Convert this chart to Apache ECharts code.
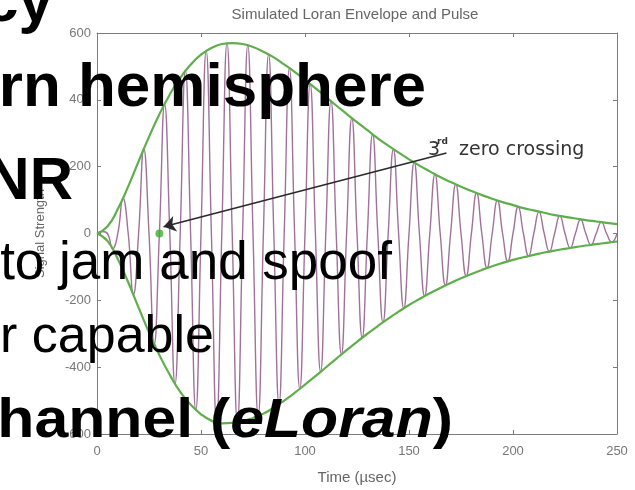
<!DOCTYPE html>
<html>
<head>
<meta charset="utf-8">
<script src="https://cdn.jsdelivr.net/npm/echarts@6/dist/echarts.min.js"></script>
<style>
  html, body { margin: 0; padding: 0; background: #fff; }
  #chart { width: 635px; height: 490px; }
</style>
</head>
<body>
<div id="chart"></div>
<script>
// envelope, sampled every 5 usec
const envTimes = [0,5,10,15,20,25,30,35,40,45,50,55,60,65,70,75,80,85,90,95,100,
  105,110,115,120,125,130,135,140,145,150,155,160,165,170,175,180,185,190,195,200,
  205,210,215,220,225,230,235,240,245,250];
const envUpper = [0,21,73,141,216,289,357,416,466,505,535,555,567,570,567,558,544,527,506,484,460,
  435,409,383,358,333,309,285,263,242,222,203,186,169,154,140,127,115,104,94,85,
  76,69,62,55,50,45,40,36,32,28];
const envLower = [0,-22,-76,-146,-222,-296,-364,-423,-474,-512,-541,-560,-568,-567,-562,-552,-539,-521,-500,-477,-452,
  -427,-401,-375,-349,-324,-300,-277,-255,-234,-214,-196,-179,-163,-148,-134,-121,-109,-98,-88,-79,
  -71,-64,-57,-51,-46,-41,-36,-32,-28,-24];

// 100 kHz carrier, peaks and zero crossings every 2.5 usec
const pulseTimes = [0,2.5,5,7.5,10,12.5,15,17.5,20,22.5,25,27.5,30,32.5,35,37.5,40,42.5,45,47.5,50,
  52.5,55,57.5,60,62.5,65,67.5,70,72.5,75,77.5,80,82.5,85,87.5,90,92.5,95,97.5,100,
  102.5,105,107.5,110,112.5,115,117.5,120,122.5,125,127.5,130,132.5,135,137.5,140,142.5,145,147.5,150,
  152.5,155,157.5,160,162.5,165,167.5,170,172.5,175,177.5,180,182.5,185,187.5,190,192.5,195,197.5,200,
  202.5,205,207.5,210,212.5,215,217.5,220,222.5,225,227.5,230,232.5,235,237.5,240,242.5,245,247.5,250];
const pulseValues = [0,6,0,-46,0,106,0,-183,0,253,0,-331,0,387,0,-450,0,487,0,-528,0,
  546,0,-565,0,569,0,-565,0,563,0,-546,0,536,0,-511,0,495,0,-465,0,
  447,0,-414,0,396,0,-362,0,345,0,-312,0,297,0,-266,0,252,0,-224,0,
  213,0,-187,0,177,0,-155,0,147,0,-127,0,121,0,-103,0,99,0,-83,0,
  80,0,-67,0,65,0,-54,0,53,0,-43,0,42,0,-34,0,34,0,-26,0];

const zeroCrossing = [30, 0];
const arrowFrom = [168, 241];
const arrowTo = [32, 20];

const xTicks = [0, 250, 50];     // min, max, step
const yTicks = [-600, 600, 200];

const zip = (a, b) => a.map((v, i) => [v, b[i]]);

const chart = echarts.init(document.getElementById('chart'));

const axisGray = '#7c7c7c';
const labelStyle = { color: '#777', fontSize: 13, fontFamily: 'Liberation Sans' };
const slideFont = 'Liberation Sans';

function slideText(text, right, baseline, size, opts) {
  opts = opts || {};
  return {
    type: 'text', z: 100, x: right, y: baseline - size * 0.33,
    scaleX: opts.scaleX || 1,
    style: {
      text: text, fill: '#000', fontFamily: slideFont, fontSize: size,
      fontWeight: opts.weight || 'bold', align: 'right', verticalAlign: 'middle',
      rich: opts.rich
    }
  };
}

chart.setOption({
  animation: false,
  backgroundColor: '#fff',
  grid: { left: 97, right: 18, top: 33, bottom: 48 },
  xAxis: [
    {
      type: 'value', min: xTicks[0], max: xTicks[1], interval: xTicks[2],
      name: 'Time (µsec)', nameLocation: 'middle', nameGap: 36,
      nameTextStyle: { color: '#666', fontSize: 15, fontFamily: 'Liberation Sans' },
      axisLine: { show: true, onZero: false, lineStyle: { color: axisGray } },
      axisTick: { inside: true, length: 4, lineStyle: { color: axisGray } },
      axisLabel: Object.assign({ margin: 11 }, labelStyle),
      splitLine: { show: false }
    },
    {
      type: 'value', position: 'top', min: xTicks[0], max: xTicks[1], interval: xTicks[2],
      axisLine: { show: true, onZero: false, lineStyle: { color: axisGray } },
      axisTick: { inside: true, length: 4, lineStyle: { color: axisGray } },
      axisLabel: { show: false }, splitLine: { show: false }
    }
  ],
  yAxis: [
    {
      type: 'value', min: yTicks[0], max: yTicks[1], interval: yTicks[2],
      name: 'Signal Strength', nameLocation: 'middle', nameGap: 50,
      nameTextStyle: { color: '#666', fontSize: 13, fontFamily: 'Liberation Sans' },
      axisLine: { show: true, onZero: false, lineStyle: { color: axisGray } },
      axisTick: { inside: true, length: 4, lineStyle: { color: axisGray } },
      axisLabel: Object.assign({ margin: 6 }, labelStyle),
      splitLine: { show: false }
    },
    {
      type: 'value', position: 'right', min: yTicks[0], max: yTicks[1], interval: yTicks[2],
      axisLine: { show: true, onZero: false, lineStyle: { color: axisGray } },
      axisTick: { inside: true, length: 4, lineStyle: { color: axisGray } },
      axisLabel: { show: false }, splitLine: { show: false }
    }
  ],
  series: [
    {
      name: 'Pulse', type: 'line', data: zip(pulseTimes, pulseValues),
      showSymbol: false, smooth: 0.5,
      lineStyle: { color: '#a0729a', width: 1.4 }
    },
    {
      name: 'Envelope+', type: 'line', data: zip(envTimes, envUpper),
      showSymbol: false, smooth: true,
      lineStyle: { color: '#5fae4c', width: 2.2 }
    },
    {
      name: 'Envelope-', type: 'line', data: zip(envTimes, envLower),
      showSymbol: false, smooth: true,
      lineStyle: { color: '#5fae4c', width: 2.2 }
    },
    {
      name: 'Zero crossing', type: 'scatter', data: [zeroCrossing],
      symbolSize: 8, itemStyle: { color: '#3fae35' }, z: 5,
      markLine: {
        silent: true, symbol: ['none', 'arrow'], symbolSize: 12,
        label: { show: false },
        lineStyle: { color: '#2a2a2a', width: 1.6, type: 'solid' },
        data: [[{ coord: arrowFrom }, { coord: arrowTo }]]
      }
    }
  ],
  graphic: [
    { type: 'text', x: 355, y: 15, style: { text: 'Simulated Loran Envelope and Pulse', fill: '#666',
      fontSize: 15, fontFamily: 'Liberation Sans', align: 'center', verticalAlign: 'middle' } },
    { type: 'text', x: 428, y: 150, style: { text: '3', fill: '#333', fontSize: 19,
      fontFamily: 'DejaVu Sans', align: 'left', verticalAlign: 'middle' } },
    { type: 'text', x: 437, y: 142, style: { text: 'rd', fill: '#333', fontSize: 9,
      fontFamily: 'DejaVu Sans', fontWeight: 'bold', align: 'left', verticalAlign: 'middle' } },
    { type: 'text', x: 459, y: 150, style: { text: 'zero crossing', fill: '#333', fontSize: 19,
      fontFamily: 'DejaVu Sans', align: 'left', verticalAlign: 'middle' } },

    slideText('cy', 53, 24, 62),
    slideText('rn hemisphere', 426, 109, 62),
    slideText('NR', 73, 202, 60),
    slideText('to jam and spoof', 392, 282, 53, { weight: 'normal' }),
    slideText('r capable', 214, 355, 52, { weight: 'normal' }),
    slideText('{b|hannel (}{i|eLoran}{b|)}', 453, 440, 56, {
      scaleX: 1.085,
      rich: {
        b: { fontFamily: slideFont, fontSize: 56, fontWeight: 'bold', fill: '#000' },
        i: { fontFamily: slideFont, fontSize: 56, fontWeight: 'bold', fontStyle: 'italic', fill: '#000' }
      }
    })
  ]
});
</script>
</body>
</html>
